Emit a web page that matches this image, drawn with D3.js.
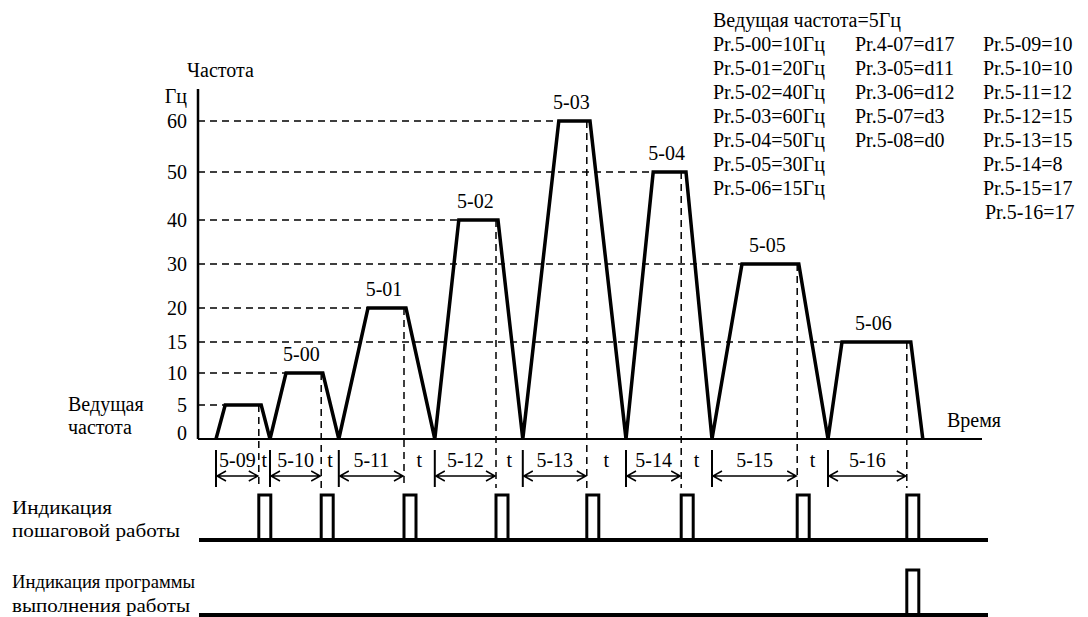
<!DOCTYPE html>
<html>
<head>
<meta charset="utf-8">
<script src="https://cdn.jsdelivr.net/npm/d3@7"></script>
<style>
  body { margin: 0; background: #fff; }
  svg text { font-family: "Liberation Serif", "Times New Roman", Tinos, "DejaVu Serif", serif; fill: #000; }
</style>
</head>
<body>
<div id="chart"></div>
<script>
// frequency levels on the (schematic, non uniform) y axis
var yTicks = [0, 5, 10, 15, 20, 30, 40, 50, 60];

// one entry per step: frequency and the time points of each trapezoid
var stepFreq = [5, 10, 20, 40, 60, 50, 30, 15];
var plateauLabels = ["", "5-00", "5-01", "5-02", "5-03", "5-04", "5-05", "5-06"];
var timeLabels = ["5-09", "5-10", "5-11", "5-12", "5-13", "5-14", "5-15", "5-16"];
var riseStart = [2.25, 9, 17.6, 29.6, 40.6, 53.5, 64.25, 78.75];
var riseEnd = [3.4, 11, 21.25, 32.6, 45.1, 56.9, 68, 80.5];
var fallStart = [7.9, 15.6, 26, 37.5, 49, 61, 75.1, 89.1];
var fallEnd = [9, 17.6, 29.6, 40.6, 53.5, 64.25, 78.75, 90.6];
var stepEnd = [7.6, 15.4, 25.75, 37.25, 48.6, 60.4, 74.9, 88.6];

// indicator signals (1 = pulse after that step)
var stepSignal = [1, 1, 1, 1, 1, 1, 1, 1];
var programSignal = [0, 0, 0, 0, 0, 0, 0, 1];
var pulseWidth = 1.5;

// parameter listing
var masterText = "Ведущая частота=5Гц";
var paramCol1 = ["Pr.5-00=10Гц", "Pr.5-01=20Гц", "Pr.5-02=40Гц", "Pr.5-03=60Гц", "Pr.5-04=50Гц", "Pr.5-05=30Гц", "Pr.5-06=15Гц"];
var paramCol2 = ["Pr.4-07=d17", "Pr.3-05=d11", "Pr.3-06=d12", "Pr.5-07=d3", "Pr.5-08=d0"];
var paramCol3 = ["Pr.5-09=10", "Pr.5-10=10", "Pr.5-11=12", "Pr.5-12=15", "Pr.5-13=15", "Pr.5-14=8", "Pr.5-15=17", "Pr.5-16=17"];

var W = 1088, H = 617;

var svg = d3.select("#chart").append("svg")
  .attr("width", W).attr("height", H);

var x = d3.scaleLinear().domain([0, 98]).range([198, 982]);
var y = d3.scaleLinear().domain(yTicks)
  .range([439, 405, 373, 342, 308, 264, 220, 172, 121]);

var steps = stepFreq.map(function (f, i) {
  return { f: f, i: i, s: riseStart[i], r: riseEnd[i], fs: fallStart[i], fe: fallEnd[i], end: stepEnd[i] };
});

// horizontal dashed guides, axis to start of plateau
svg.append("g").selectAll("line").data(steps).enter().append("line")
  .attr("x1", x(0)).attr("x2", function (d) { return x(d.r); })
  .attr("y1", function (d) { return y(d.f); }).attr("y2", function (d) { return y(d.f); })
  .attr("stroke", "#000").attr("stroke-width", 1.5).attr("stroke-dasharray", "7,5");

// vertical dashed markers at end of each step
var tickTop = 450, tickBot = 487, arrowY = 476;
svg.append("g").selectAll("line").data(steps).enter().append("line")
  .attr("x1", function (d) { return x(d.end); }).attr("x2", function (d) { return x(d.end); })
  .attr("y1", function (d) { return y(d.f); }).attr("y2", tickBot + 1)
  .attr("stroke", "#000").attr("stroke-width", 1.5).attr("stroke-dasharray", "7,5");

// axes
svg.append("line").attr("x1", x(0)).attr("x2", x(0)).attr("y1", 89).attr("y2", y(0))
  .attr("stroke", "#000").attr("stroke-width", 2.5);
svg.append("line").attr("x1", x(0)).attr("x2", x(98)).attr("y1", y(0)).attr("y2", y(0))
  .attr("stroke", "#000").attr("stroke-width", 2);

svg.append("g").selectAll("text").data(yTicks).enter().append("text")
  .attr("x", 187)
  .attr("y", function (d) { return Math.min(y(d), y(0) - 6); })
  .attr("dy", "0.33em")
  .attr("text-anchor", "end").attr("font-size", 20)
  .text(function (d) { return d; });

svg.append("text").attr("x", 187).attr("y", 103).attr("text-anchor", "end").attr("font-size", 20).text("Гц");
svg.append("text").attr("x", 187).attr("y", 77).attr("font-size", 20).text("Частота");
svg.append("text").attr("x", 68).attr("y", 411).attr("font-size", 20).text("Ведущая");
svg.append("text").attr("x", 68).attr("y", 434).attr("font-size", 20).text("частота");
svg.append("text").attr("x", 947).attr("y", 427).attr("font-size", 20).text("Время");

// frequency profile
var line = d3.line().x(function (d) { return x(d[0]); }).y(function (d) { return y(d[1]); });
var profile = [];
steps.forEach(function (d) {
  profile.push([d.s, 0], [d.r, d.f], [d.fs, d.f], [d.fe, 0]);
});
svg.append("path").attr("d", line(profile))
  .attr("fill", "none").attr("stroke", "#000").attr("stroke-width", 3.5)
  .attr("stroke-linejoin", "miter");

svg.append("g").selectAll("text").data(steps.filter(function (d) { return d.i > 0; })).enter().append("text")
  .attr("x", function (d) { return (x(d.r) + x(d.fs)) / 2 - 3; })
  .attr("y", function (d) { return y(d.f) - 12; })
  .attr("text-anchor", "middle").attr("font-size", 20)
  .text(function (d) { return plateauLabels[d.i]; });

// timing row
var timing = svg.append("g");
timing.selectAll(".tick").data(steps).enter().append("line")
  .attr("x1", function (d) { return x(d.s); }).attr("x2", function (d) { return x(d.s); })
  .attr("y1", tickTop).attr("y2", tickBot)
  .attr("stroke", "#000").attr("stroke-width", 2);
timing.selectAll(".arr").data(steps).enter().append("path")
  .attr("d", function (d) {
    var a = x(d.s) + 1, b = x(d.end) - 1;
    return "M" + a + "," + arrowY + "H" + b +
      "M" + (a + 9) + "," + (arrowY - 5) + "L" + a + "," + arrowY + "L" + (a + 9) + "," + (arrowY + 5) +
      "M" + (b - 9) + "," + (arrowY - 5) + "L" + b + "," + arrowY + "L" + (b - 9) + "," + (arrowY + 5);
  })
  .attr("fill", "none").attr("stroke", "#000").attr("stroke-width", 1.5);
timing.selectAll(".lab").data(steps).enter().append("text")
  .attr("x", function (d) { return (x(d.s) + x(d.end)) / 2; })
  .attr("y", 467).attr("text-anchor", "middle").attr("font-size", 20)
  .text(function (d) { return timeLabels[d.i]; });
timing.selectAll(".t").data(steps.slice(0, steps.length - 1)).enter().append("text")
  .attr("x", function (d) { return (x(d.end) + x(riseStart[d.i + 1])) / 2; })
  .attr("y", 467).attr("text-anchor", "middle").attr("font-size", 20)
  .text("t");

// indicator rows
function signalRow(signal, base, top) {
  var g = svg.append("g");
  g.append("line").attr("x1", 199).attr("x2", 988).attr("y1", base).attr("y2", base)
    .attr("stroke", "#000").attr("stroke-width", 4);
  g.selectAll("path").data(steps.filter(function (d) { return signal[d.i]; })).enter().append("path")
    .attr("d", function (d) {
      var a = x(d.end), b = x(d.end + pulseWidth);
      return "M" + a + "," + base + "V" + top + "H" + b + "V" + base;
    })
    .attr("fill", "none").attr("stroke", "#000").attr("stroke-width", 3);
}
signalRow(stepSignal, 540, 495);
signalRow(programSignal, 615, 570);

svg.append("text").attr("x", 12).attr("y", 514).attr("font-size", 19).attr("textLength", 100).attr("lengthAdjust", "spacingAndGlyphs").text("Индикация");
svg.append("text").attr("x", 12).attr("y", 537).attr("font-size", 19).attr("textLength", 168).attr("lengthAdjust", "spacingAndGlyphs").text("пошаговой работы");
svg.append("text").attr("x", 12).attr("y", 588).attr("font-size", 19).attr("textLength", 183).attr("lengthAdjust", "spacingAndGlyphs").text("Индикация программы");
svg.append("text").attr("x", 12).attr("y", 612).attr("font-size", 19).attr("textLength", 178).attr("lengthAdjust", "spacingAndGlyphs").text("выполнения работы");

// parameter block, top right
var rowH = 24, row0 = 27;
var params = svg.append("g").attr("font-size", 20);
params.append("text").attr("x", 713).attr("y", row0).text(masterText);
params.selectAll(".c1").data(paramCol1).enter().append("text")
  .attr("x", 713).attr("y", function (d, i) { return row0 + (i + 1) * rowH; }).text(function (d) { return d; });
params.selectAll(".c2").data(paramCol2).enter().append("text")
  .attr("x", 855).attr("y", function (d, i) { return row0 + (i + 1) * rowH; }).text(function (d) { return d; });
params.selectAll(".c3").data(paramCol3).enter().append("text")
  .attr("x", function (d, i) { return i === 7 ? 985 : 983; })
  .attr("y", function (d, i) { return row0 + (i + 1) * rowH; }).text(function (d) { return d; });
</script>
</body>
</html>
